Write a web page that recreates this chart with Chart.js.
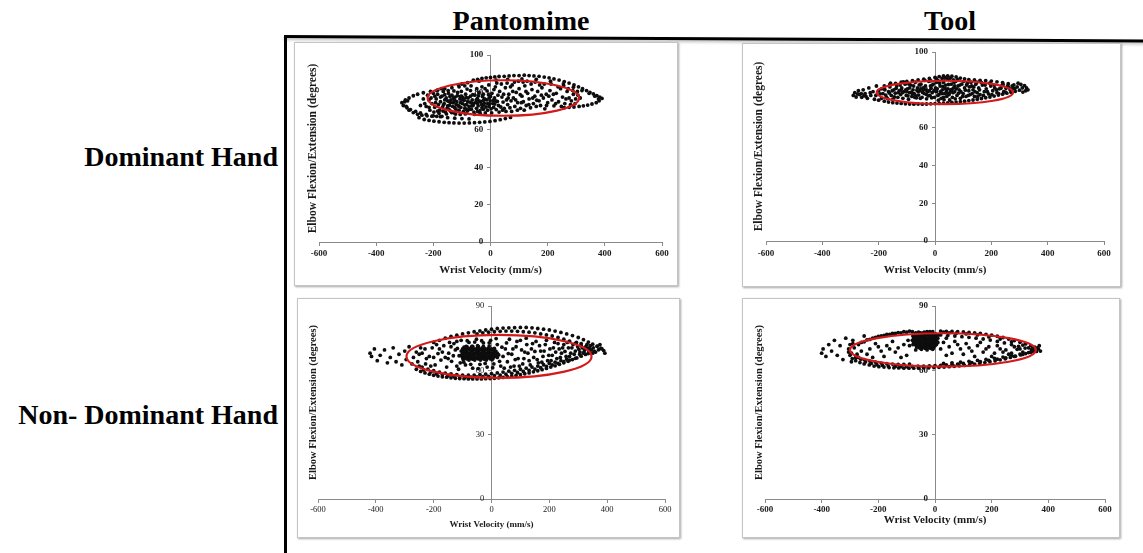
<!DOCTYPE html>
<html>
<head>
<meta charset="utf-8">
<script src="https://cdn.jsdelivr.net/npm/chart.js@4.4.1/dist/chart.umd.min.js"></script>
<style>
  html, body { margin: 0; padding: 0; background: #fff; }
  body { width: 1143px; height: 553px; position: relative; overflow: hidden;
         font-family: "Liberation Serif", "Times New Roman", serif; }
  .head { position: absolute; font-weight: bold; font-size: 28px; line-height: 28px;
          white-space: nowrap; color: #000; }
  .frameTop { position: absolute; left: 284px; top: 35px; width: 880px; height: 3px; background: #000;
              transform-origin: 0 0; transform: rotate(0.3deg); box-shadow: 0 2px 3px rgba(0,0,0,0.25); }
  .frameLeft { position: absolute; left: 284px; top: 35px; width: 3px; height: 530px; background: #000; }
  .panel { position: absolute; border: 1px solid #c4c4c4; box-shadow: 1px 1px 2px rgba(0,0,0,0.35); background: #fff; }
  .panel canvas { display: block; }
</style>
</head>
<body>
<div class="head" style="left:421px;top:7px;width:200px;text-align:center;">Pantomime</div>
<div class="head" style="left:850px;top:7px;width:200px;text-align:center;">Tool</div>
<div class="head" style="left:0;top:143px;width:278px;text-align:right;">Dominant Hand</div>
<div class="head" style="left:0;top:401px;width:278px;text-align:right;">Non- Dominant Hand</div>
<div class="frameTop"></div>
<div class="frameLeft"></div>

<div class="panel" style="left:294px;top:42px;"><canvas id="c0" width="382" height="242"></canvas></div>
<div class="panel" style="left:742px;top:43px;"><canvas id="c1" width="377" height="242"></canvas></div>
<div class="panel" style="left:297px;top:298px;"><canvas id="c2" width="381" height="238"></canvas></div>
<div class="panel" style="left:742px;top:298px;"><canvas id="c3" width="376" height="238"></canvas></div>

<script>
// Wrist velocity (mm/s) vs elbow flexion/extension (degrees) samples, one array per condition.
const pantomimeDominant = [
  [-60,86.5],[-45,87],[-30,87.5],[-15,87.8],[0,88],[15,88.3],[30,88.5],[48,88.6],[65,88.8],[82,89],[100,89],[118,89.2],[135,89],[152,88.8],[170,88.6],[188,88.2],[205,87.8],[222,87.2],[240,86.6],[258,85.8],[275,85],[292,84],[308,83],[322,82],[336,81],[348,80],[360,79.2],[372,78.3],[382,77.5],[390,76.8],
  [-100,84.5],[-80,85.2],[-40,86],[20,86.5],[60,87],[110,87.2],[160,87],[210,86],[255,84.5],[290,82.8],[320,81],[345,79.5],[365,78],[378,76.5],
  [380,75.5],[370,74.5],[355,73.8],[340,73.2],[325,72.8],[310,72.5],[292,72.2],[275,72],[258,71.8],
  [-310,74.5],[-305,73],[-298,76],[-292,71.8],[-285,77],[-280,70.8],[-270,78.2],[-262,69.8],[-255,79],[-245,69],[-235,79.8],[-225,68.2],[-210,80.5],[-200,67.5],[-185,81.2],[-175,67],[-160,82],[-150,66.5],[-135,82.5],[-125,66.2],[-110,83],[-100,66],[-90,83.5],[-75,65.8],
  [-250,66.5],[-232,65.5],[-215,65],[-198,64.6],[-180,64.3],[-162,64],[-145,63.8],[-128,63.7],[-110,63.6],[-92,63.6],[-74,63.7],[-56,63.8],[-38,64],[-20,64.2],[-2,64.5],[16,64.9],[34,65.4],[52,66],[70,66.6],
  [-295,72.5],[-285,70.5],[-270,69.2],[-255,68.3],[-240,67.8],[-222,67.5],[-205,67.3],[-188,67.2],[-170,67.2],[-290,75.5],[-300,75],
  [-195,72],[-190,76.5],[-185,79],[-182,73.5],[-178,70.5],[-175,75],[-170,78],[-168,72],[-165,80.5],[-162,74],[-158,69.5],[-155,77],[-152,71.5],[-150,75.5],[-147,79.5],[-144,73],[-140,70],[-138,76],[-135,78.5],[-132,72.5],[-130,74.5],[-127,69],[-124,77.5],[-121,71],[-118,75],[-115,80],[-113,73],[-110,70.5],[-107,76.5],[-104,72],[-101,78],[-98,74],[-95,69.8],[-92,75.8],[-90,71.5],[-87,79],[-84,73.5],[-81,70],[-78,77],[-75,72.5],[-72,74.8],[-70,81],[-67,71],[-64,76],[-61,73],[-58,69.5],[-55,78.5],[-52,74.5],[-49,71.5],[-46,76.8],[-43,72.8],[-40,80],[-37,70.2],[-34,75],[-31,73.5],[-28,77.8],[-25,71],[-22,74.2],[-19,82],[-16,72.2],[-13,76],[-10,70.5],[-7,78.8],[-4,73.8],[-1,75.5],[2,71.2],[5,79.5],[8,74],[11,72],[14,77],[17,83],[20,70.8],[24,75.2],[28,73],[32,80.5],[36,72.2],[40,77.5],[44,74.8],[48,71.5],[52,82.5],[56,76],[60,73.5],[64,79],[68,71.8],[72,75.5],[76,84],[80,77],[85,72.5],[90,80],[95,74.5],[100,82],[105,71.5],[110,78],[115,75],[120,83.5],[125,73],[130,79.5],[135,76.5],[140,71.8],[145,81.5],[150,74],[155,78],[160,72.5],[165,80.5],[170,75.5],[175,73],[180,82.5],[185,77],[190,71.2],[195,79],[200,74.5],[208,81],[215,76],[222,72.8],[230,79.5],[238,75],[245,82],[252,77.5],[260,74],[268,80.5],[275,77],[283,75.5],[290,79],[298,76.5],[306,78.5],
  [-160,76],[-140,74.5],[-120,73.5],[-100,76],[-80,75],[-60,74],[-40,75.5],[-20,76.5],[-150,72.8],[-130,77],[-110,72.5],[-90,73.2],[-70,78],[-50,76],[-30,71.8],[-10,74],[10,75.8],[-175,77.5],[-145,70.8],[-125,75.8],[-105,74.5],[-85,77.2],[-65,72.8],[-45,74.2],[-25,79],[-5,72.5],[15,73.8],[-195,78],[-205,74],[-215,76],[-225,72.5],
  [-230,74],[-220,78.5],[-212,70.5],[-208,77],[-198,69.5],[-192,74.5],[-188,81],[-180,68.8],[-172,82],[-166,70],[-160,78.8],[-154,68.5],[-148,81],[-142,77.8],[-136,69.2],[-128,80.8],[-122,68.4],[-116,78.2],[-112,84],[-106,68.2],[-102,80.5],[-96,77.2],[-88,68.5],[-82,81.8],[-76,70.8],[-68,83.5],[-62,78.8],[-56,68.3],[-48,82],[-42,78.2],[-36,68.8],[-30,83],[-24,73.2],[-18,69],[-12,80.8],[-6,84],[0,77.8],[4,69],[12,81.5],[18,75.5],[22,85],[26,78.5],[30,69.5],[38,84.5],[42,70.5],[46,79],[54,69.8],[58,85],[62,77],[70,83],[74,69.8],[78,80.5],[84,85.5],[88,76],[94,70.5],[98,86],[104,78.8],[108,74.5],[114,85.5],[118,70.5],[124,80.5],[128,86],[134,73.5],[142,84.5],[148,77],[156,85.5],[162,75.8],[172,84],[178,78.5],[188,84.5],[196,73],[204,78],[212,84.5],[220,79],[228,74],[236,83],[248,72.5],[256,83.5],[264,76.5],[272,82],[280,73.5],[288,81],[296,74],[304,80.5],[314,77],[-185,70],[-165,73.2],[-145,75.2],[-125,71.8],[-105,77.8],[-85,71],[-65,74.2],[-45,69.8],[-25,75.8],[-5,77],[-215,72],[-200,79.5],[-235,76.5],[-245,73]
];

const toolDominant = [
  [-290,77],[-285,78.5],[-280,76.2],[-272,79.5],[-268,77.5],[-260,76],[-255,80],[-248,78],[-240,75.5],[-235,81],[-228,77],[-220,79],[-215,75],[-208,82],[-200,74.5],[-195,77.8],[-190,80.5],
  [-180,74],[-165,73.5],[-150,73.2],[-135,73],[-120,72.8],[-105,72.6],[-90,72.5],[-75,72.4],[-60,72.5],[-45,72.4],[-30,72.5],[-15,72.6],[0,72.7],[15,72.8],[30,73],[45,73.1],[60,73.3],[75,73.5],[90,73.7],[105,74],[120,74.3],[135,74.6],[150,75],[165,75.4],[180,75.8],[195,76.2],[210,76.7],[225,77.2],[240,77.7],[255,78.2],[270,78.7],[285,79.2],
  [300,79.8],[310,81],[318,82.2],[325,81],[330,80],[322,79.5],[305,82.8],[295,83.5],[312,78.8],
  [-180,82],[-160,82.8],[-140,83.4],[-120,84],[-100,84.4],[-80,84.8],[-60,85.2],[-40,85.6],[-20,86],[0,86.5],[15,87],[30,87.3],[45,87.4],[60,87.2],[75,86.8],[90,86.2],[105,85.8],[120,85.4],[140,85.2],[160,85],[180,84.8],[200,84.6],[220,84.2],[240,83.8],[260,83.2],[280,82.6],
  [-185,78],[-178,80],[-172,76],[-165,79],[-160,81.5],[-155,77],[-150,75],[-146,80],[-141,78.2],[-136,82],[-132,76],[-127,79.5],[-122,77.5],[-118,81],[-114,75.5],[-110,79],[-106,83],[-102,77],[-98,80.5],[-94,75],[-90,78.5],[-86,82.5],[-82,76.5],[-78,80],[-74,78],[-70,84],[-66,75.8],[-62,81],[-58,77.2],[-54,79.5],[-50,83],[-46,76],[-42,80.2],[-38,78],[-34,82],[-30,75.2],[-26,79],[-22,84.5],[-18,77],[-14,80.8],[-10,78.5],[-6,83],[-2,76],[2,81],[6,79],[10,85],[14,77.5],[18,82],[22,75.5],[26,80],[30,84],[34,78],[38,82.5],[42,76.5],[46,80.5],[50,85.5],[54,78.8],[58,83],[62,76],[66,81],[70,79],[74,84.5],[78,77],[82,82],[86,80],[90,75.5],[95,83],[100,78],[105,81],[110,76.5],[115,83.5],[120,79.5],[125,77.5],[130,82],[135,80],[140,76.5],[145,83],[150,78.5],[155,81],[160,77.5],[168,82.5],[175,79],[182,80.5],[190,77.8],[198,82],[205,79.5],[212,81],[220,78.5],[228,80.5],[236,82],[244,79],[252,80.8],[260,81.5],[268,79.8],[276,80.6],
  [-20,79.5],[0,80],[20,79],[40,79.5],[60,80.2],[-40,81],[-60,79],[-80,78],[-100,79],[-120,80],[-10,82.5],[10,77],[30,76],[50,77.5],[70,82],[-30,77.5],[-50,80.5],[-70,77],[-90,81],[5,84],[25,86],[45,85.8],[65,85.2],[-15,84.8],[35,86.2],[55,86.4],
  [-210,77],[-200,79.5],[-190,75.5],[-180,80.5],[-175,77.2],[-168,75.2],[-162,78.3],[-158,83.5],[-152,79.5],[-144,76.2],[-138,80.8],[-130,78.5],[-124,82.5],[-116,78.5],[-112,84.2],[-104,80],[-96,76.8],[-92,83],[-84,78.8],[-76,82],[-72,76],[-64,79.8],[-56,82.6],[-52,75.5],[-44,78.6],[-36,85],[-32,80],[-24,76.8],[-16,82],[-12,75.8],[-4,79.3],[4,86],[8,80.5],[12,74.5],[16,83.5],[24,78],[28,81.8],[32,74.8],[36,80.8],[40,86.5],[44,78.2],[48,82.8],[52,74.6],[56,80],[64,78.5],[68,84],[72,75.2],[76,80.5],[80,85.5],[84,78.2],[88,82.5],[92,79],[98,76.5],[102,84.5],[108,79.8],[112,82.5],[118,77],[122,81.5],[128,84],[132,78],[138,81.5],[142,79],[148,84],[152,76.5],[158,80],[165,83.8],[172,77],[178,82.5],[186,79],[194,83.5],[202,77.5],[210,82.5],[218,80],[226,78],[234,80.8],[242,82.8],[250,78.8],[258,82],[266,80.5],[274,82],[284,80.8],[292,81.5],[-230,78.5],[-245,76.5],[-262,78],[-275,77.8],[-252,77]
];

const pantomimeNonDominant = [
  [-420,68],[-415,66.5],[-405,70],[-395,64.5],[-385,67],[-370,69.5],[-360,63.5],[-350,66],[-340,70.5],[-330,64],[-320,67.5],[-310,62.5],[-300,69],[-295,65],[-285,71],[-275,63],
  [-200,73],[-180,74],[-160,75],[-140,75.8],[-120,76.4],[-100,77],[-80,77.5],[-60,78],[-40,78.4],[-20,78.8],[0,79.2],[20,79.5],[40,79.7],[60,79.8],[80,79.9],[100,80],[120,80],[140,79.8],[160,79.5],[180,79.2],[200,78.8],[220,78.3],[240,77.7],[260,77],[280,76.2],[300,75.3],[318,74.3],[335,73.2],[350,72.2],[365,71.2],[378,70.3],[388,69.2],[392,68],
  [-50,77],[-30,77.5],[-10,77.8],[10,78],[30,78.2],[50,78.3],[70,78.3],[90,78.2],[110,78],[130,77.8],[150,77.5],[170,77],[190,76.5],[210,76],[230,75.3],[250,74.5],[270,73.6],[290,72.6],[310,71.6],[328,70.5],[345,69.5],[360,68.5],
  [-260,60.5],[-245,59.5],[-230,58.8],[-215,58.2],[-200,57.7],[-185,57.3],[-170,57],[-155,56.8],[-140,56.5],[-125,56.3],[-110,56.2],[-95,56.1],[-80,56],[-65,56],[-50,56],[-35,56],[-20,56.1],[-5,56.2],[10,56.3],[25,56.5],[40,56.7],[55,57],[70,57.3],[85,57.6],[100,58],[115,58.4],[130,58.8],[145,59.3],[160,59.8],[175,60.3],[190,60.9],[205,61.5],[220,62.1],[235,62.8],[250,63.5],[265,64.2],[280,65],[295,65.8],[310,66.6],[325,67.4],[340,68.2],[355,69],[370,69.6],[382,70],
  [-240,61.5],[-220,60.5],[-200,59.8],[-180,59.2],[-160,58.7],[-140,58.3],[-120,58],[-100,57.8],[-80,57.7],[-60,57.8],[-40,58],[-20,58.2],[0,58.5],[20,58.8],[40,59.2],[60,59.6],[80,60],[100,60.5],[120,61],[140,61.5],[160,62],[180,62.6],[200,63.2],[220,63.8],[240,64.5],[260,65.2],
  [-100,66],[-100,68],[-100,70],[-95,65.5],[-95,67],[-95,69],[-95,70.8],[-90,66.2],[-90,68.2],[-90,70],[-85,65.3],[-85,67.3],[-85,69.3],[-85,71],[-80,66],[-80,68],[-80,70.2],[-75,65.5],[-75,67.5],[-75,69.5],[-70,66.5],[-70,68.5],[-70,70.5],[-65,65.2],[-65,67.2],[-65,69.2],[-65,71.2],[-60,66],[-60,68],[-60,70],[-55,65.6],[-55,67.6],[-55,69.6],[-50,66.3],[-50,68.3],[-50,70.3],[-45,65.3],[-45,67.3],[-45,69.3],[-45,71],[-40,66],[-40,68],[-40,70],[-35,65.5],[-35,67.5],[-35,69.5],[-30,66.5],[-30,68.5],[-30,70.5],[-25,65.2],[-25,67.2],[-25,69.2],[-20,66],[-20,68],[-20,70],[-15,65.6],[-15,67.6],[-15,69.6],[-10,66.3],[-10,68.3],[-10,70.3],[-5,65.4],[-5,67.4],[-5,69.4],[0,66],[0,68],[0,70],[5,65.5],[5,67.5],[5,69.5],[10,66.4],[10,68.4],[10,70.2],[15,67],[15,69],[20,66],[20,68],[25,67.2],[-105,67],[-105,69],
  [-270,66],[-255,64],[-240,68],[-228,63],[-215,66.5],[-205,70.5],[-195,62.5],[-185,67.8],[-175,64.8],[-165,71.5],[-155,61.5],[-148,68],[-138,64.2],[-130,72.5],[-120,62],[-112,66.8],[-105,74],[-90,62.5],[-78,73],[-65,61],[-52,74.5],[-40,62.8],[-28,72.8],[-15,61.5],[-3,74],[8,63],[20,72],[32,62],[40,66.5],[48,70],[55,64],[62,74.5],[70,67.5],[78,62],[85,71],[92,65.5],[100,74],[108,63],[115,68.5],[122,72],[130,64.5],[138,70],[146,66],[154,73.5],[162,63.5],[170,69],[178,66.5],[186,72],[194,64.5],[202,70],[210,67],[218,73],[226,65.5],[234,70],[242,68],[250,72],[258,66.5],[266,70.5],[274,68],[282,72],[290,69],[298,71],[306,68.5],[314,70.5],[322,69.5],[330,72],[338,70.5],[-230,70],[-250,67.5],[-210,62],[-180,70],[-150,65.5],[-125,69.5],[-108,63.5],[-120,73.5],[-140,71],
  [-250,62],[-235,60.2],[-210,59.2],[-190,58.4],[-170,58],[-150,57.6],[-130,57.2],[-110,57],[-90,56.9],[-70,56.8],[-50,56.9],[-30,57],[-10,57.2],[10,57.5],[30,57.8],[50,58.2],[70,58.6],[90,59],[110,59.5],[130,60],[150,60.6],[170,61.2],[190,61.8],[210,62.5],[230,63.2],[250,64],[270,64.8],[290,65.6],[305,67.5],[320,68.5],[336,69.3],[352,70.5],[366,71.3],[375,72],
  [-260,68.5],[-245,70.5],[-225,65.5],[-200,66],[-190,72],[-170,68.5],[-160,66],[-145,73],[-132,66.8],[-118,70.2],[-114,60.5],[-96,63.8],[-84,73.8],[-72,62.8],[-58,73.2],[-46,60.8],[-34,73.8],[-22,63.2],[-8,72.8],[4,61.2],[16,74.8],[28,64.2],[36,70.8],[44,61],[52,72.8],[58,67.8],[66,61.5],[74,70],[82,65],[88,73.5],[96,62],[104,69.5],[112,65.5],[120,75],[126,68],[134,62.5],[142,72.5],[150,68.8],[158,65],[166,71.5],[174,63.8],[182,69],[190,74],[198,67],[206,64.5],[214,70.5],[222,68.5],[230,72.5],[238,66],[246,70.5],[254,68.8],[262,73],[270,66.5],[278,70.5],[286,67.5],[294,73],[302,69.8],[310,72.5],[318,68],[326,71],[334,67.8],[342,71.5],[350,68],
  [-102,66.8],[-92,69.2],[-82,67],[-72,69.5],[-62,67],[-52,69],[-42,66.8],[-32,69.2],[-22,67],[-12,69.2],[-2,67],[8,69.2],[18,67.2],[-88,71.2],[-68,71.2],[-48,71.5],[-28,71.2],[-8,71.3],[-98,65],[-78,64.8],[-58,64.8],[-38,64.8],[-18,64.8],[2,64.9]
];

const toolNonDominant = [
  [-400,68],[-395,70],[-385,66.5],[-375,72],[-365,69],[-355,74],[-345,67],[-335,71.5],[-325,65],[-315,75],[-305,68.5],[-295,64],[-290,72.5],[-250,76],[-280,66],
  [-260,73],[-240,74.2],[-220,75],[-200,75.8],[-180,76.3],[-160,76.8],[-140,77.2],[-120,77.5],[-100,77.8],[-80,78],[20,78.3],[40,78.2],[60,78.1],[80,78],[100,77.9],[120,77.7],[140,77.5],[160,77.2],[180,76.8],[200,76.4],[220,75.9],[240,75.3],[260,74.6],[280,73.9],[300,73.1],[320,72.3],[338,71.5],[352,70.8],[365,70],[372,69],
  [20,76.5],[45,76.2],[70,76],[95,75.7],[120,75.4],[145,75],[170,74.6],[195,74.1],[220,73.5],[245,72.8],[270,72],[295,71.2],[318,70.4],[340,69.6],[358,68.8],
  [-300,67],[-292,65.5],[-280,64.5],[-265,63.6],[-250,63],[-232,62.5],[-215,62],[-198,61.7],[-180,61.5],[-162,61.3],[-145,61.2],[-128,61.1],[-110,61],[-92,61],[-75,61],[-58,61],[-40,61.1],[-22,61.2],[-4,61.3],[14,61.4],[32,61.5],[50,61.7],[68,61.9],[86,62.1],[104,62.3],[122,62.6],[140,62.9],[158,63.2],[176,63.6],[194,64],[212,64.4],[230,64.9],[248,65.4],[266,66],[284,66.6],[302,67.2],[320,67.8],[338,68.4],[355,69.2],[368,71.5],
  [-270,66],[-250,65],[-230,64.3],[-210,63.8],[-190,63.4],[-170,63.1],[-150,62.9],[-130,62.8],[-110,62.8],[-90,62.9],[30,63.2],[60,63.5],[90,63.8],[120,64.2],[150,64.6],[180,65.1],[210,65.6],[240,66.2],[270,66.9],[300,67.6],[330,68.3],
  [-305,70],[-300,72],[-290,74],[-295,68],
  [-70,72],[-70,74],[-70,76],[-65,71],[-65,73],[-65,75],[-65,77],[-60,72],[-60,74],[-60,76],[-55,70.5],[-55,72.5],[-55,74.5],[-55,76.5],[-50,71.5],[-50,73.5],[-50,75.5],[-50,77.5],[-45,70.8],[-45,72.8],[-45,74.8],[-45,76.8],[-40,71.5],[-40,73.5],[-40,75.5],[-40,77.5],[-35,70.3],[-35,72.3],[-35,74.3],[-35,76.3],[-30,71],[-30,73],[-30,75],[-30,77],[-25,70.5],[-25,72.5],[-25,74.5],[-25,76.5],[-20,71.2],[-20,73.2],[-20,75.2],[-20,77.2],[-15,70.2],[-15,72.2],[-15,74.2],[-15,76.2],[-10,71],[-10,73],[-10,75],[-10,77],[-5,70.5],[-5,72.5],[-5,74.5],[-5,76.5],[0,71.5],[0,73.5],[0,75.5],[5,72],[5,74],[5,76],[10,73],[10,75],[-75,73],[-75,75],[-80,74],
  [-230,70],[-210,72.5],[-190,69],[-170,71.5],[-150,73.5],[-130,70.5],[-110,72],[-95,74],[-120,66],[-180,66.5],[-100,67],[30,73],[50,71],[70,73.5],[90,70],[110,72.5],[130,69],[150,71.5],[170,68.5],[190,71],[210,68],[230,70],[250,69.5],[270,68],[290,69.8],[310,68.5],[60,68],[100,67.5],[140,66.5],[200,66.5],[260,67.5],[-260,69],[-240,67.5],[-220,66],[20,70],[40,67],
  [-72,73],[-72,75],[-68,77.5],[-62,71],[-62,73],[-62,75],[-58,77.8],[-52,71],[-52,73],[-52,75],[-48,76.5],[-42,71],[-42,73],[-42,75],[-38,77.8],[-32,71.5],[-32,73.5],[-32,75.5],[-28,78],[-22,71],[-22,73],[-22,75],[-18,78],[-12,71.5],[-12,73.5],[-12,75.5],[-8,78],[-2,71.5],[-2,73.5],[-2,75.5],[2,77],[7,73],[7,75],[-78,72],[-78,76],[-68,69.5],[-48,69.8],[-28,69.5],[-8,69.8],[12,76.5],
  [-285,70.5],[-275,67.5],[-262,65.2],[-245,64],[-225,63.2],[-205,62.6],[-185,62.3],[-165,62],[-140,61.8],[-120,61.7],[-100,61.7],[-80,61.8],[-60,61.9],[-40,62],[-20,62.1],[0,62.2],[20,62.3],[40,62.5],[60,62.7],[80,62.9],[100,63.2],[130,63.6],[160,64],[190,64.6],[220,65.2],[250,65.8],[280,66.5],[310,67.4],[345,68.9],[362,70.5],[-270,72],[-250,73.3],[-230,74.4],[-210,75.4],[-190,76],[-170,76.7],[-150,77.2],[-130,77.6],[-110,78],[-90,78.3],[30,77.8],[50,77.5],[75,77.3],[110,77],[150,76.5],[190,75.6],[230,74.6],[270,73.3],[310,71.8],[345,70.3],
  [-200,71],[-160,70],[-140,68.5],[-90,71.5],[40,75],[80,72],[120,70.5],[160,73],[180,70],[220,71.5],[240,68.5],[280,71],[300,70],[330,70.5]
];

// Fitted ellipse for each condition (data units), same order as the panels.
const ellipseCenterX = [45, 35, 26, 28];
const ellipseCenterY = [77, 78.6, 66.5, 69.5];
const ellipseRadiusX = [265, 242, 320, 328];
const ellipseRadiusY = [9.5, 6.2, 10, 7.8];

// Axis ranges and tick steps.
const xMin = -600, xMax = 600, xStep = 200;
const yMax = [100, 100, 90, 90];
const yStep = [20, 20, 30, 30];
// The vertical axis crosses at wrist velocity 0; its numbers sit just left of it.
const yAxisCross = 0;
const yLabelAnchor = -25;

const panelData = [pantomimeDominant, toolDominant, pantomimeNonDominant, toolNonDominant];

// Plot-area placement inside each canvas (pixels).
const panelLayout = [
  { left: 24, right: 15, top: 12, bottom: 43, yTitlePad: 11.5, xTitlePad: 8.5, tickPadX: 2, tickFont: 9, tickBold: true, xTitleFont: 11, yTitleFont: 11.5 },
  { left: 23, right: 16, top: 8, bottom: 45, yTitlePad: 9.5, xTitlePad: 9.5, tickPadX: 3, tickFont: 9, tickBold: true, xTitleFont: 11, yTitleFont: 11.5 },
  { left: 20, right: 14, top: 7, bottom: 38, yTitlePad: 9, xTitlePad: 7, tickPadX: 2, tickFont: 8.5, tickBold: false, xTitleFont: 9, yTitleFont: 10.5 },
  { left: 22, right: 14, top: 7, bottom: 38, yTitlePad: 10, xTitlePad: 10.5, tickPadX: 1, tickFont: 9, tickBold: true, xTitleFont: 11, yTitleFont: 10.5 }
];

const serif = '"Liberation Serif", "Times New Roman", serif';
const axisGray = '#8a8a8a';

const ellipsePlugin = {
  id: 'fitEllipse',
  afterDatasetsDraw(chart, args, opts) {
    const xs = chart.scales.x, ys = chart.scales.y;
    const cx = xs.getPixelForValue(opts.cx), cy = ys.getPixelForValue(opts.cy);
    const rx = Math.abs(xs.getPixelForValue(opts.cx + opts.rx) - cx);
    const ry = Math.abs(ys.getPixelForValue(opts.cy + opts.ry) - cy);
    const ctx = chart.ctx;
    ctx.save();
    ctx.beginPath();
    ctx.ellipse(cx, cy, rx, ry, 0, 0, Math.PI * 2);
    ctx.strokeStyle = '#d21a1a';
    ctx.lineWidth = 2.2;
    ctx.stroke();
    ctx.restore();
  }
};

panelData.forEach((pts, i) => {
  const L = panelLayout[i];
  const tickFont = { family: serif, size: L.tickFont, weight: L.tickBold ? 'bold' : 'normal' };
  const noPad = s => { s.paddingTop = 0; s.paddingBottom = 0; };
  new Chart(document.getElementById('c' + i), {
    type: 'scatter',
    data: {
      datasets: [{
        data: pts.map(([x, y]) => ({ x, y })),
        backgroundColor: '#0d0d0d',
        borderWidth: 0,
        pointRadius: 1.9,
        pointHoverRadius: 1.9
      }]
    },
    plugins: [ellipsePlugin],
    options: {
      responsive: false,
      animation: false,
      events: [],
      layout: { padding: { top: L.top, right: L.right, left: 0, bottom: 0 } },
      plugins: {
        legend: { display: false },
        tooltip: { enabled: false },
        fitEllipse: { cx: ellipseCenterX[i], cy: ellipseCenterY[i], rx: ellipseRadiusX[i], ry: ellipseRadiusY[i] }
      },
      scales: {
        x: {
          type: 'linear', position: 'bottom', min: xMin, max: xMax,
          ticks: { stepSize: xStep, font: tickFont, color: '#1a1a1a', padding: L.tickPadX, maxRotation: 0 },
          grid: { display: true, drawOnChartArea: false, drawTicks: true, tickLength: 4, color: axisGray },
          border: { display: true, color: axisGray, width: 1 },
          title: { display: true, text: 'Wrist Velocity (mm/s)', color: '#1a1a1a',
                   font: { family: serif, size: L.xTitleFont, weight: 'bold' }, padding: { top: 0, bottom: L.xTitlePad } },
          afterFit(s) { s.height = L.bottom; s.paddingLeft = 0; s.paddingRight = 0; }
        },
        y: {
          type: 'linear', position: { x: yAxisCross }, min: 0, max: yMax[i],
          ticks: { stepSize: yStep[i], display: false },
          grid: { display: true, drawOnChartArea: false, drawTicks: true, tickLength: 3, color: axisGray },
          border: { display: true, color: axisGray, width: 1 },
          afterFit: noPad
        },
        yLabels: {
          type: 'linear', axis: 'y', position: { x: yLabelAnchor }, min: 0, max: yMax[i],
          ticks: { stepSize: yStep[i], font: tickFont, color: '#1a1a1a', padding: 0 },
          grid: { display: false },
          border: { display: false },
          afterFit: noPad
        },
        yTitle: {
          type: 'linear', axis: 'y', position: 'left', min: 0, max: yMax[i],
          ticks: { display: false },
          grid: { display: false },
          border: { display: false },
          title: { display: true, text: 'Elbow Flexion/Extension (degrees)', color: '#1a1a1a',
                   font: { family: serif, size: L.yTitleFont, weight: 'bold' }, padding: { top: L.yTitlePad, bottom: 0 } },
          afterFit(s) { s.width = L.left; s.paddingTop = 0; s.paddingBottom = 0; }
        }
      }
    }
  });
});
</script>
</body>
</html>
